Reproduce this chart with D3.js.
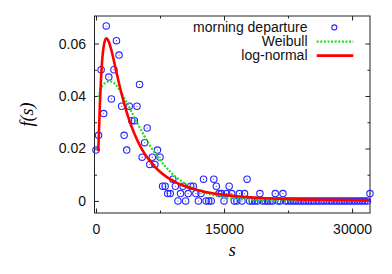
<!DOCTYPE html>
<html>
<head>
<meta charset="utf-8">
<script src="https://cdn.jsdelivr.net/npm/d3@7"></script>
<style>
  body { margin: 0; background: #fff; }
  text { font-family: "Liberation Sans", Arial, sans-serif; }
</style>
</head>
<body>
<div id="vis"></div>
<script>
// histogram bins (s, seconds) and the measured density
const binS = [
    0, 300, 600, 900, 1200, 1500, 1800, 2100, 2400, 2700,
    3000, 3300, 3600, 3900, 4200, 4500, 4800, 5100, 5400, 5700,
    6000, 6300, 6600, 6900, 7200, 7500, 7800, 8100, 8400, 8700,
    9000, 9300, 9600, 9900, 10200, 10500, 10800, 11100, 11400, 11700,
    12000, 12300, 12600, 12900, 13200, 13500, 13800, 14100, 14400, 14700,
    15000, 15300, 15600, 15900, 16200, 16500, 16800, 17100, 17400, 17700,
    18000, 18300, 18600, 18900, 19200, 19500, 19800, 20100, 20400, 20700,
    21000, 21300, 21600, 21900, 22200, 22500, 22800, 23100, 23400, 23700,
    24000, 24300, 24600, 24900, 25200, 25500, 25800, 26100, 26400, 26700,
    27000, 27300, 27600, 27900, 28200, 28500, 28800, 29100, 29400, 29700,
    30000, 30300, 30600, 30900, 31200, 31500, 31800, 32100
];
const departure = [
    0.0194, 0.0250, 0.0500, 0.0333, 0.0667, 0.0472, 0.0389, 0.0500, 0.0611, 0.0556,
    0.0361, 0.0250, 0.0194, 0.0361, 0.0306, 0.0306, 0.0361, 0.0444, 0.0167, 0.0222,
    0.0278, 0.0139, 0.0167, 0.0139, 0.0194, 0.0167, 0.0056, 0.0056, 0.0028, 0.0028,
    0.0083, 0.0056, 0, 0.0028, 0.0056, 0, 0.0028, 0.0056, 0.0056, 0.0028,
    0, 0.0028, 0.0083, 0, 0, 0, 0.0083, 0.0056, 0.0028, 0.0028,
    0, 0.0028, 0.0056, 0.0028, 0, 0, 0.0028, 0, 0.0028, 0.0083,
    0, 0, 0, 0, 0.0028, 0, 0, 0, 0, 0,
    0.0028, 0, 0, 0.0028, 0, 0, 0, 0, 0, 0,
    0, 0, 0, 0, 0, 0, 0, 0, 0, 0,
    0, 0, 0, 0, 0, 0, 0, 0, 0, 0,
    0, 0, 0, 0, 0, 0, 0, 0.0028
];

// fitted curves
const curveS = [270, 450, 600, 900, 1200, 1500, 1800, 2400, 3000, 3600, 4500, 5400, 6300,
    7200, 8400, 9600, 10800, 12000, 13500, 15000, 17000, 19000, 22000, 25000, 28000, 32100];
const weibull = [0.0395, 0.0415, 0.0430, 0.0445, 0.0452, 0.0455, 0.0455, 0.0440, 0.0410, 0.0375,
    0.0318, 0.0263, 0.0212, 0.0169, 0.0121, 0.0085, 0.0059, 0.0040, 0.0024, 0.0014,
    0.0007, 0.0003, 0.0001, 0, 0, 0];
const lognormal = [0.0190, 0.0364, 0.0473, 0.0589, 0.0620, 0.0607, 0.0575, 0.0490, 0.0408, 0.0338,
    0.0256, 0.0196, 0.0153, 0.0120, 0.0089, 0.0067, 0.0052, 0.0041, 0.0030, 0.0023,
    0.0017, 0.0012, 0.0008, 0.0005, 0.0004, 0.0002];

const xMajor = [0, 15000, 30000];
const xMinor = [7500, 22500];
const yMajor = [0, 0.02, 0.04, 0.06];
const yMinor = [0.01, 0.03, 0.05];

const seriesNames = ["morning departure", "Weibull", "log-normal"];

const WIDTH = 392;
const HEIGHT = 274;
const PLOT = { left: 94.5, right: 370, top: 16, bottom: 213 };

const BLUE = "#2626ff";
const GREEN = "#22dd22";
const RED = "#ff0000";

const svg = d3.select("#vis").append("svg")
    .attr("width", WIDTH)
    .attr("height", HEIGHT);

const x = d3.scaleLinear().domain([-175, 32100]).range([PLOT.left, PLOT.right]);
const y = d3.scaleLinear().domain([-0.0046, 0.0705]).range([PLOT.bottom, PLOT.top]);

// ---------- axes (ticks pointing inward, mirrored on top/right) ----------
function drawAxis(axis, tx, ty) {
    const g = svg.append("g")
        .attr("transform", `translate(${tx},${ty})`)
        .call(axis);
    g.select(".domain").remove();
    g.selectAll("line").attr("stroke", "#222").attr("stroke-width", 1);
    g.selectAll("text").attr("font-size", 14).attr("fill", "#111")
        .style("font-family", "'Liberation Sans', Arial, sans-serif");
    return g;
}

const fmtY = d => d === 0 ? "0" : d3.format(".2f")(d);

drawAxis(d3.axisBottom(x).tickValues(xMajor).tickSize(-4.5).tickPadding(11).tickFormat(d3.format("d")), 0, PLOT.bottom);
drawAxis(d3.axisBottom(x).tickValues(xMinor).tickSize(-2.5).tickFormat(""), 0, PLOT.bottom);
drawAxis(d3.axisTop(x).tickValues(xMajor).tickSize(-4.5).tickFormat(""), 0, PLOT.top);
drawAxis(d3.axisTop(x).tickValues(xMinor).tickSize(-2.5).tickFormat(""), 0, PLOT.top);

drawAxis(d3.axisLeft(y).tickValues(yMajor).tickSize(-4.5).tickPadding(8.5).tickFormat(fmtY), PLOT.left, 0);
drawAxis(d3.axisLeft(y).tickValues(yMinor).tickSize(-2.5).tickFormat(""), PLOT.left, 0);
drawAxis(d3.axisRight(y).tickValues(yMajor).tickSize(-4.5).tickFormat(""), PLOT.right, 0);
drawAxis(d3.axisRight(y).tickValues(yMinor).tickSize(-2.5).tickFormat(""), PLOT.right, 0);

// frame
svg.append("rect")
    .attr("x", PLOT.left).attr("y", PLOT.top)
    .attr("width", PLOT.right - PLOT.left).attr("height", PLOT.bottom - PLOT.top)
    .attr("fill", "none").attr("stroke", "#222").attr("stroke-width", 1);

// axis titles
svg.append("text")
    .attr("x", (PLOT.left + PLOT.right) / 2).attr("y", 255.5)
    .attr("text-anchor", "middle")
    .style("font-family", "'Liberation Serif', 'Times New Roman', serif")
    .style("font-style", "italic").attr("font-size", 18)
    .text("s");

svg.append("text")
    .attr("transform", `translate(33,${(PLOT.top + PLOT.bottom) / 2}) rotate(-90)`)
    .attr("text-anchor", "middle")
    .style("font-family", "'Liberation Serif', 'Times New Roman', serif")
    .style("font-style", "italic").attr("font-size", 18)
    .text("f(s)");

// ---------- data points ----------
const pts = binS.map((s, i) => ({ s: s, f: departure[i] }));
const dots = svg.append("g");
dots.selectAll("circle.o").data(pts).join("circle")
    .attr("class", "o")
    .attr("cx", d => x(d.s)).attr("cy", d => y(d.f))
    .attr("r", 3.2)
    .attr("fill", "none").attr("stroke", BLUE).attr("stroke-width", 1.1);
dots.selectAll("circle.c").data(pts).join("circle")
    .attr("class", "c")
    .attr("cx", d => x(d.s)).attr("cy", d => y(d.f))
    .attr("r", 0.55).attr("fill", BLUE);

// ---------- fitted curves ----------
const line = d3.line()
    .x(d => x(d[0]))
    .y(d => y(d[1]))
    .curve(d3.curveMonotoneX);

svg.append("path")
    .attr("d", line(curveS.map((s, i) => [s, weibull[i]])))
    .attr("fill", "none").attr("stroke", GREEN)
    .attr("stroke-width", 2.2).attr("stroke-dasharray", "2,1.6");

svg.append("path")
    .attr("d", line(curveS.map((s, i) => [s, lognormal[i]])))
    .attr("fill", "none").attr("stroke", RED)
    .attr("stroke-width", 2.6).attr("stroke-linejoin", "round");

// ---------- legend ----------
const legend = svg.append("g");
const LEG_TEXT_X = 307.5;
const LEG_Y = [32, 46, 60];

legend.selectAll("text").data(seriesNames).join("text")
    .attr("x", LEG_TEXT_X).attr("y", (d, i) => LEG_Y[i])
    .attr("text-anchor", "end").attr("font-size", 14).attr("fill", "#111")
    .text(d => d);

legend.append("circle")
    .attr("cx", 334.3).attr("cy", LEG_Y[0] - 4.6).attr("r", 2.5)
    .attr("fill", "none").attr("stroke", BLUE).attr("stroke-width", 1.1);
legend.append("line")
    .attr("x1", 316.7).attr("x2", 353.3)
    .attr("y1", LEG_Y[1] - 4.4).attr("y2", LEG_Y[1] - 4.4)
    .attr("stroke", GREEN).attr("stroke-width", 2.2).attr("stroke-dasharray", "2,1.6");
legend.append("line")
    .attr("x1", 316.7).attr("x2", 353.3)
    .attr("y1", LEG_Y[2] - 4.4).attr("y2", LEG_Y[2] - 4.4)
    .attr("stroke", RED).attr("stroke-width", 2.6);
</script>
</body>
</html>
